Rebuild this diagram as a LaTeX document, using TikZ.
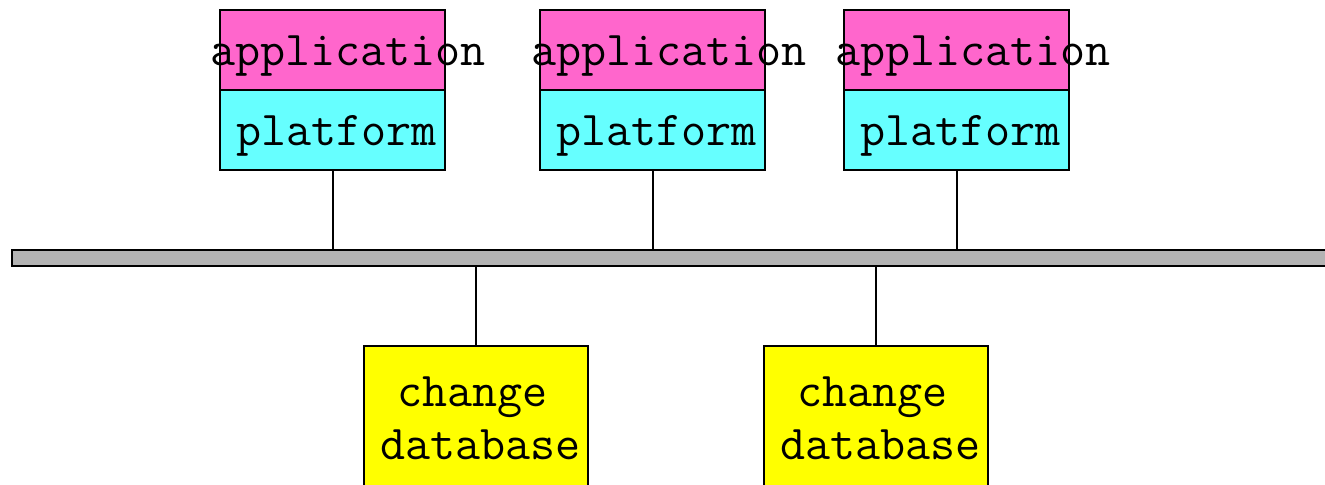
\documentclass[tikz,border=0pt]{standalone}
\usepackage{fontspec}
\definecolor{apppink}{HTML}{FF66CC}
\definecolor{platcyan}{HTML}{66FFFF}
\definecolor{dbyellow}{HTML}{FFFF00}
\definecolor{busgray}{HTML}{B3B3B3}
\begin{document}
\begin{tikzpicture}[x=0.75pt,y=-0.75pt,
  box/.style={draw=black, line width=1.5pt, inner sep=0pt, outer sep=0pt, anchor=north west},
  appbox/.style={box, fill=apppink, minimum width=168.75pt, minimum height=60pt},
  platbox/.style={box, fill=platcyan, minimum width=168.75pt, minimum height=60pt},
  dbbox/.style={box, fill=dbyellow, minimum width=168pt, minimum height=120pt},
  busbar/.style={box, fill=busgray, minimum width=1000pt, minimum height=12pt},
  lbl/.style={anchor=base west, inner sep=0pt, font=\fontsize{36.5}{42}\selectfont\ttfamily},
  wire/.style={draw=black, line width=1.5pt}]
\useasboundingbox (0,0) rectangle (1325,485);
\clip (0,0) rectangle (1325,485);
% bus
\node[busbar] (bus) at (12,250) {};
% application stacks
\foreach \i/\x in {1/220, 2/540, 3/844} {
  \node[appbox] (app\i) at (\x,10) {};
  \node[platbox] (plat\i) at (\x,90) {};
}
\node[lbl] (tapp1) at (210,65) {application};
\node[lbl] (tapp2) at (531,65) {application};
\node[lbl] (tapp3) at (835,65) {application};
\node[lbl] (tplat1) at (236,145) {platform};
\node[lbl] (tplat2) at (556,145) {platform};
\node[lbl] (tplat3) at (860,145) {platform};
% databases
\node[dbbox] (db1) at (364,346) {};
\node[dbbox] (db2) at (764,346) {};
\node[lbl] (tch1) at (397,406) {change};
\node[lbl] (tdb1) at (380,459) {database};
\node[lbl] (tch2) at (797,406) {change};
\node[lbl] (tdb2) at (780,459) {database};
% connectors
\foreach \i in {1,2,3} {
  \draw[wire] (plat\i.south) -- (plat\i.south |- bus.north);
}
\foreach \i in {1,2} {
  \draw[wire] (db\i.north) -- (db\i.north |- bus.south);
}
\end{tikzpicture}
\end{document}
